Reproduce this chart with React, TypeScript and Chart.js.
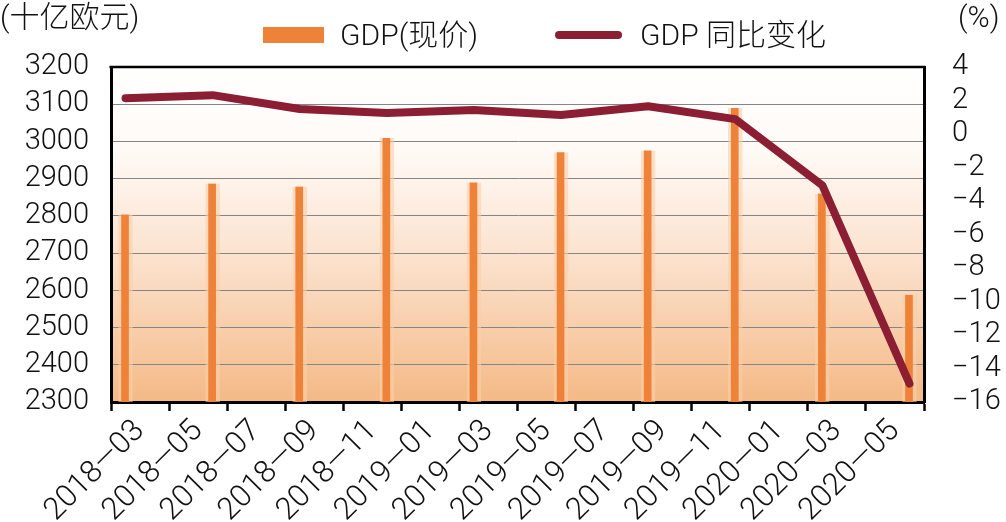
import React, { useEffect, useRef } from 'react';
import { Chart, registerables } from 'chart.js';

Chart.register(...registerables);

// Quarter-end months of each observation
const periods = ['2018-03', '2018-06', '2018-09', '2018-12', '2019-03', '2019-06', '2019-09', '2019-12', '2020-03', '2020-06'];
// GDP at current prices, billion EUR (left axis)
const gdpValues = [2804, 2887, 2879, 3009, 2890, 2971, 2976, 3090, 2860, 2588];
// GDP year-on-year change, % (right axis)
const yoyValues = [2.14, 2.32, 1.49, 1.25, 1.43, 1.13, 1.66, 0.89, -3.07, -14.9];
// Bottom axis labels, every two months starting 2018-03
const xTickLabels = ['2018—03', '2018—05', '2018—07', '2018—09', '2018—11', '2019—01', '2019—03', '2019—05', '2019—07', '2019—09', '2019—11', '2020—01', '2020—03', '2020—05'];

const leftMin = 2300;
const leftMax = 3200;
const leftStep = 100;
const rightMin = -16;
const rightMax = 4;
const rightStep = 2;

const seriesNames = ['GDP(现价)', 'GDP 同比变化'];
const leftUnit = '(十亿欧元)';
const rightUnit = '(%)';

const BAR_COLOR = '#ee8238';
const LINE_COLOR = '#8b1e33';
const FONT_LATIN = 'Roboto, "Noto Sans CJK SC", sans-serif';
const FONT_CJK = 'Roboto, "Noto Sans CJK SC", sans-serif';

// month offset from the first axis month (2018-03), centred in its month slot
const monthPos = (p: string) => {
  const [y, m] = p.split('-').map(Number);
  return (y - 2018) * 12 + (m - 3) + 0.5;
};

const bgPlugin = {
  id: 'areaBg',
  beforeDraw(chart: any) {
    const { ctx, chartArea } = chart;
    const { left, top, right, bottom } = chartArea;
    const g = ctx.createLinearGradient(0, top, 0, bottom);
    g.addColorStop(0, '#ffffff');
    g.addColorStop(0.25, '#fffaf6');
    g.addColorStop(0.6, '#fbdfc9');
    g.addColorStop(1, '#f4b986');
    ctx.save();
    ctx.fillStyle = g;
    ctx.fillRect(left, top, right - left, bottom - top);
    ctx.restore();
  },
  afterDraw(chart: any) {
    const { ctx, chartArea } = chart;
    ctx.save();
    ctx.strokeStyle = '#000';
    ctx.lineWidth = 2.5;
    ctx.beginPath();
    ctx.moveTo(chartArea.left - 1.5, chartArea.top);
    ctx.lineTo(chartArea.right + 1.5, chartArea.top);
    ctx.stroke();
    ctx.restore();
  },
};

export default function App() {
  const ref = useRef<HTMLCanvasElement | null>(null);

  useEffect(() => {
    if (!ref.current) return;
    const xMax = xTickLabels.length * 2;
    const tickFont = { family: FONT_LATIN, size: 29, weight: '300' as any };
    const xFont = { family: FONT_LATIN, size: 31, weight: '300' as any };
    const chart = new Chart(ref.current, {
      type: 'bar',
      data: {
        datasets: [
          {
            type: 'line',
            label: seriesNames[1],
            data: periods.map((p, i) => ({ x: monthPos(p), y: yoyValues[i] })),
            yAxisID: 'y2',
            borderColor: LINE_COLOR,
            backgroundColor: LINE_COLOR,
            borderWidth: 8,
            borderCapStyle: 'round',
            borderJoinStyle: 'round',
            pointRadius: 0,
            tension: 0,
            order: 0,
          } as any,
          {
            type: 'bar',
            label: seriesNames[0],
            data: periods.map((p, i) => ({ x: monthPos(p), y: gdpValues[i] })),
            yAxisID: 'y',
            backgroundColor: BAR_COLOR,
            borderColor: 'rgba(250, 206, 168, 0.6)',
            borderWidth: { left: 3, right: 4, top: 0, bottom: 0 },
            borderSkipped: false,
            barThickness: 14,
            order: 1,
          } as any,
        ],
      },
      options: {
        animation: false,
        responsive: true,
        maintainAspectRatio: false,
        layout: { padding: { top: 67, left: 0, right: 0, bottom: 0 } },
        plugins: {
          legend: { display: false },
          tooltip: { enabled: false },
        },
        scales: {
          x: {
            type: 'linear',
            min: 0,
            max: xMax,
            offset: false,
            afterBuildTicks: (scale: any) => {
              scale.ticks = Array.from({ length: xMax + 1 }, (_, i) => ({ value: i }));
            },
            afterFit: (scale: any) => {
              scale.height = 120;
            },
            ticks: {
              autoSkip: false,
              minRotation: 45,
              maxRotation: 45,
              padding: 2,
              color: '#111',
              font: xFont,
              callback: (v: any) => (v % 2 === 1 ? xTickLabels[(v - 1) / 2] : ''),
            },
            grid: {
              offset: false,
              drawOnChartArea: false,
              drawTicks: true,
              tickLength: 9,
              tickWidth: 2.5,
              tickColor: (ctx: any) => (ctx.tick && ctx.tick.value % 2 === 0 ? '#000' : 'rgba(0,0,0,0)'),
            },
            border: { color: '#000', width: 3 },
          },
          y: {
            position: 'left',
            min: leftMin,
            max: leftMax,
            afterFit: (scale: any) => {
              scale.width = 111;
            },
            ticks: {
              stepSize: leftStep,
              autoSkip: false,
              padding: 22,
              color: '#111',
              font: tickFont,
              callback: (v: any) => String(v),
            },
            grid: { color: '#858585', lineWidth: 1, drawTicks: false },
            border: { color: '#000', width: 3 },
          },
          y2: {
            position: 'right',
            min: rightMin,
            max: rightMax,
            afterFit: (scale: any) => {
              scale.width = 82;
            },
            ticks: {
              stepSize: rightStep,
              autoSkip: false,
              padding: 28,
              color: '#111',
              font: tickFont,
              callback: (v: any) => (v < 0 ? '−' + Math.abs(v) : String(v)),
            },
            grid: { drawOnChartArea: false, drawTicks: false },
            border: { color: '#000', width: 3 },
          },
        },
      } as any,
      plugins: [bgPlugin],
    });
    return () => chart.destroy();
  }, []);

  const textStyle: React.CSSProperties = {
    position: 'absolute',
    fontFamily: FONT_CJK,
    fontWeight: 300,
    fontSize: 30,
    lineHeight: '34px',
    color: '#111',
    whiteSpace: 'nowrap',
  };

  return (
    <div style={{ position: 'absolute', left: 0, top: 0, width: 1006, height: 522, background: '#fff', overflow: 'hidden' }}>
      <canvas ref={ref} style={{ position: 'absolute', left: 0, top: 0, width: 1006, height: 522 }} />
      <div style={{ ...textStyle, left: 0, top: 0 }}>{leftUnit}</div>
      <div style={{ ...textStyle, left: 958, top: 0 }}>{rightUnit}</div>
      <div style={{ position: 'absolute', left: 263, top: 27, width: 61, height: 16, background: BAR_COLOR }} />
      <div style={{ ...textStyle, left: 340, top: 18 }}>{seriesNames[0]}</div>
      <div style={{ position: 'absolute', left: 555, top: 31, width: 67, height: 8, borderRadius: 4, background: LINE_COLOR }} />
      <div style={{ ...textStyle, left: 640, top: 18 }}>{seriesNames[1]}</div>
    </div>
  );
}
